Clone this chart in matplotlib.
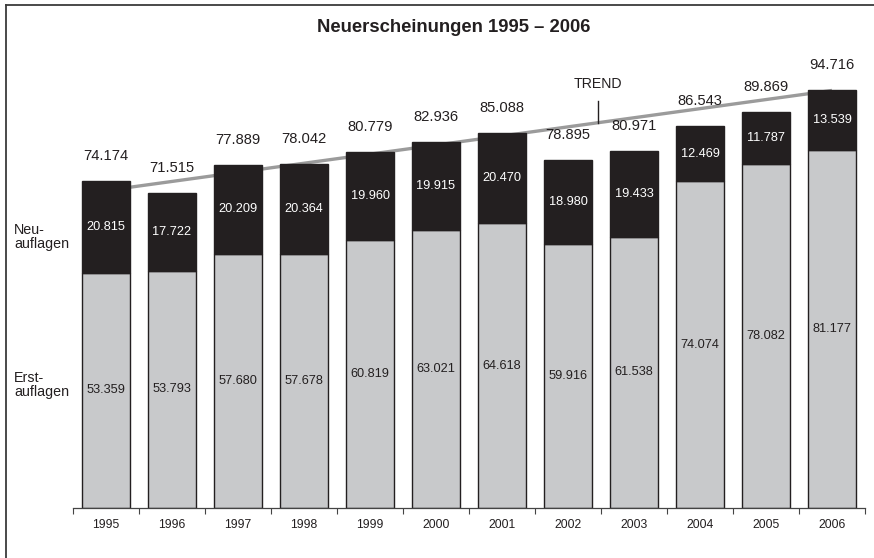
import numpy as np
import matplotlib
matplotlib.use("Agg")
import matplotlib.pyplot as plt
from matplotlib.lines import Line2D

plt.rcParams["font.family"] = ["Liberation Sans", "DejaVu Sans"]

# --- Daten (in Tausend) ---
years = ["1995", "1996", "1997", "1998", "1999", "2000",
         "2001", "2002", "2003", "2004", "2005", "2006"]
erstauflagen = [53.359, 53.793, 57.680, 57.678, 60.819, 63.021,
                64.618, 59.916, 61.538, 74.074, 78.082, 81.177]
neuauflagen = [20.815, 17.722, 20.209, 20.364, 19.960, 19.915,
               20.470, 18.980, 19.433, 12.469, 11.787, 13.539]
totals = [74.174, 71.515, 77.889, 78.042, 80.779, 82.936,
          85.088, 78.895, 80.971, 86.543, 89.869, 94.716]
trend = [72.0, 94.7]  # Trendlinie 1995 -> 2006

TXT = "#231f20"
GRAY = "#c8c9cb"
BLACK = "#231f20"

fig = plt.figure(figsize=(8.74, 5.58), dpi=100)
ax = fig.add_axes([73 / 874, 50 / 558, 792 / 874, 485 / 558])

x = np.arange(len(years))
w = 0.72

# Trend zuerst (hinter den Balken)
ax.plot([x[0], x[-1]], trend, color="#9b9b9b", lw=2.4, zorder=1,
        solid_capstyle="butt")

ax.bar(x, erstauflagen, w, color=GRAY, edgecolor=BLACK, lw=1.0, zorder=2)
ax.bar(x, neuauflagen, w, bottom=erstauflagen, color=BLACK,
       edgecolor=BLACK, lw=1.0, zorder=2)

for i in range(len(years)):
    ax.text(x[i], erstauflagen[i] / 2, f"{erstauflagen[i]:.3f}",
            ha="center", va="center", fontsize=9.2, color=TXT, zorder=3)
    ax.text(x[i], erstauflagen[i] + neuauflagen[i] / 2, f"{neuauflagen[i]:.3f}",
            ha="center", va="center", fontsize=9.2, color="white", zorder=3)
    ax.annotate(f"{totals[i]:.3f}", (x[i], totals[i]), xytext=(0, 18),
                textcoords="offset points", ha="center", va="center",
                fontsize=10.6, color=TXT, annotation_clip=False)

# TREND-Beschriftung
tx = 7.45
ty = np.interp(tx, [x[0], x[-1]], trend)
ax.plot([tx, tx], [ty, ty + 5], color=TXT, lw=1.0, zorder=1)
ax.text(tx, ty + 8.8, "TREND", ha="center", va="center", fontsize=10.2, color=TXT)

ax.set_xlim(-0.5, len(years) - 0.5)
ax.set_ylim(0, 110)
ax.set_xticks(x)
ax.set_xticklabels(years, fontsize=8.7, color=TXT)
ax.set_xticks(np.arange(-0.5, len(years)), minor=True)
ax.tick_params(axis="x", which="major", length=0, pad=8)
ax.tick_params(axis="x", which="minor", length=4, width=0.8, color="#444444",
               direction="out")
ax.set_yticks([])
for s in ["top", "left", "right"]:
    ax.spines[s].set_visible(False)
ax.spines["bottom"].set_color("#444444")
ax.spines["bottom"].set_linewidth(0.9)

# Legende links
fig.text(14 / 874, 1 - 237 / 558, "Neu-\nauflagen", ha="left", va="center",
         fontsize=10.3, color=TXT, linespacing=1.0)
fig.text(14 / 874, 1 - 385 / 558, "Erst-\nauflagen", ha="left", va="center",
         fontsize=10.3, color=TXT, linespacing=1.0)

fig.text(454 / 874, 1 - 28 / 558, "Neuerscheinungen 1995 \u2013 2006",
         ha="center", va="center", fontsize=13.3, fontweight="bold", color=TXT)

# Rahmen (oben + links)
fig.add_artist(Line2D([6 / 874, 1], [1 - 5 / 558] * 2, color="#3a3a3a", lw=1.3,
                      transform=fig.transFigure))
fig.add_artist(Line2D([6 / 874] * 2, [0, 1 - 5 / 558], color="#3a3a3a", lw=1.3,
                      transform=fig.transFigure))

fig.savefig("out.png", dpi=100)
